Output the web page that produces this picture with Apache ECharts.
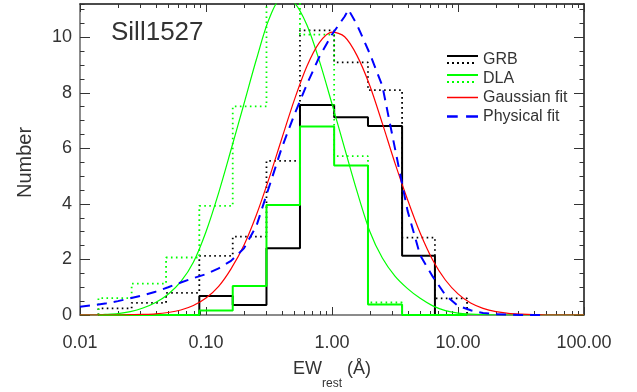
<!DOCTYPE html>
<html>
<head>
<meta charset="utf-8">
<script src="https://cdn.jsdelivr.net/npm/echarts@6/dist/echarts.min.js"></script>
<style>
  html, body { margin: 0; padding: 0; background: #fff; }
  #chart { width: 637px; height: 392px; }
</style>
</head>
<body>
<div id="chart"></div>
<script>
// ---- data ----
// histogram bin edges (EW_rest, Angstrom)
const binEdges = [0.0140, 0.0257, 0.0482, 0.0885, 0.163, 0.302, 0.557, 1.04, 1.93, 3.60, 6.56, 11.8];
// GRB histograms (solid and dotted)
const grbSolid = [0, 0, 0, 0.68, 0.36, 2.40, 7.56, 7.12, 6.81, 2.13, 0];
const grbDotted = [0.24, 0.44, 0.80, 2.13, 2.82, 5.55, 10.25, 9.10, 8.10, 2.79, 0.60];
// DLA histograms (solid and dotted)
const dlaSolid = [0, 0, 0, 0.16, 1.04, 3.96, 6.79, 5.38, 0.38, 0, 0];
const dlaDotted = [0.61, 1.13, 2.07, 3.93, 7.51, 11.8, 10.1, 5.72, 0.45, 0, 0];

// sampled positions for the fitted curves
const fitEW = [0.01, 0.0126, 0.0158, 0.02, 0.0251, 0.0316, 0.0398, 0.0501, 0.0631, 0.0794,
               0.1, 0.126, 0.158, 0.2, 0.251, 0.316, 0.398, 0.501, 0.631, 0.794,
               1, 1.26, 1.58, 2, 2.51, 3.16, 3.98, 5.01, 6.31, 7.94,
               10, 12.6, 15.8, 20, 25.1, 31.6, 39.8, 50.1, 63.1, 79.4, 100];
// Gaussian fit (red)
const gaussFit = [0, 0, 0, 0, 0.01, 0.02, 0.04, 0.09, 0.18, 0.34,
                  0.61, 1.03, 1.66, 2.51, 3.60, 4.91, 6.33, 7.73, 8.95, 9.81,
                  10.19, 10.02, 9.34, 8.25, 6.90, 5.47, 4.15, 2.95, 1.97, 1.26,
                  0.76, 0.43, 0.24, 0.12, 0.06, 0.03, 0.01, 0, 0, 0, 0];
// DLA fit (thin green curve)
const dlaFit = [0, 0, 0.02, 0.05, 0.12, 0.25, 0.45, 0.75, 1.20, 1.90,
                3.00, 4.40, 5.95, 7.60, 9.20, 10.65, 11.40, 11.25, 10.45, 9.15,
                7.60, 6.00, 4.45, 3.00, 2.05, 1.40, 0.95, 0.60, 0.33, 0.16,
                0.07, 0.03, 0.01, 0, 0, 0, 0, 0, 0, 0, 0];
// Physical fit (blue dashed)
const physEW = [0.01, 0.0126, 0.0158, 0.02, 0.0251, 0.0316, 0.0398, 0.0501, 0.0631, 0.0794,
                0.1, 0.126, 0.158, 0.2, 0.251, 0.316, 0.398, 0.501, 0.631, 0.794,
                1, 1.26, 1.35, 1.58, 2, 2.51, 3.16, 3.98, 5.01, 6.31, 7.94,
                10, 12.6, 15.8, 20, 25.1, 31.6, 39.8, 50.1];
const physFit = [0.30, 0.35, 0.41, 0.50, 0.60, 0.71, 0.84, 1.00, 1.17, 1.33,
                 1.47, 1.68, 1.95, 2.40, 3.20, 4.60, 6.00, 7.20, 8.30, 9.30,
                 10.10, 10.75, 11.00, 10.45, 9.40, 8.25, 6.00, 3.75, 2.15, 1.38, 0.72,
                 0.33, 0.17, 0.07, 0.03, 0.01, 0, 0, 0];

// axis ticks
const xMajorTicks = [0.01, 0.1, 1, 10, 100];
const xMinorTicks = [0.02, 0.03, 0.04, 0.05, 0.06, 0.07, 0.08, 0.09,
                     0.2, 0.3, 0.4, 0.5, 0.6, 0.7, 0.8, 0.9,
                     2, 3, 4, 5, 6, 7, 8, 9,
                     20, 30, 40, 50, 60, 70, 80, 90];
const yMin = 0, yMax = 11.2, yMajor = 2, yMinor = 0.5;

// ---- helpers ----
function stepPoints(edges, vals) {
  const pts = [[edges[0], 0]];
  for (let i = 0; i < vals.length; i++) {
    pts.push([edges[i], vals[i]], [edges[i + 1], vals[i]]);
  }
  pts.push([edges[edges.length - 1], 0]);
  return pts;
}
function pairs(xs, ys) { return xs.map((x, i) => [x, ys[i]]); }

const FONT = 'Liberation Sans, Arial, Helvetica, sans-serif';
const TXT = '#333';

function xAxisDef(pos, minor) {
  return {
    type: 'log', logBase: 10, min: 0.01, max: 100, position: pos,
    axisLine: { show: !minor, onZero: false, lineStyle: { color: pos === 'bottom' ? '#666' : '#111', width: 1.5 } },
    axisTick: minor
      ? { show: true, inside: true, length: 4, customValues: xMinorTicks, lineStyle: { color: '#333', width: 1 } }
      : { show: true, inside: true, length: 8, customValues: xMajorTicks, lineStyle: { color: '#333', width: 1 } },
    axisLabel: (pos === 'bottom' && !minor)
      ? { show: true, customValues: xMajorTicks, formatter: v => Number(v).toFixed(2), margin: 19, fontSize: 18, color: TXT, fontFamily: FONT }
      : { show: false },
    splitLine: { show: false },
    minorTick: { show: false }
  };
}
function yAxisDef(pos, minor) {
  return {
    type: 'value', min: yMin, max: yMax, interval: minor ? yMinor : yMajor, position: pos,
    axisLine: { show: !minor, onZero: false, lineStyle: { color: pos === 'left' ? '#666' : '#111', width: 1.5 } },
    axisTick: { show: true, inside: true, length: minor ? 4.5 : 10, lineStyle: { color: '#333', width: 1 } },
    axisLabel: (pos === 'left' && !minor)
      ? { show: true, margin: 8, fontSize: 18, color: TXT, fontFamily: FONT, showMaxLabel: false, padding: [3, 0, 0, 0] }
      : { show: false },
    splitLine: { show: false }
  };
}

const xMain = xAxisDef('bottom', false);
xMain.name = '{a|EW}{s|rest}{a| (Å)}';
xMain.nameLocation = 'middle';
xMain.nameGap = 45;
xMain.nameTextStyle = {
  rich: {
    a: { fontSize: 18, fontFamily: FONT, color: TXT, lineHeight: 30, verticalAlign: 'top' },
    s: { fontSize: 12, fontFamily: FONT, color: TXT, lineHeight: 12, verticalAlign: 'bottom' }
  }
};
const yMain = yAxisDef('left', false);
yMain.name = 'Number';
yMain.nameLocation = 'middle';
yMain.nameGap = 45;
yMain.nameTextStyle = { fontSize: 20, fontFamily: FONT, color: TXT, padding: [0, 6, 0, 0] };

const option = {
  animation: false,
  backgroundColor: '#fff',
  grid: { left: 80, right: 53, top: 4, bottom: 77, containLabel: false, outerBoundsMode: 'none' },
  title: {
    text: 'Sill1527', left: 111, top: 20, padding: 0,
    textStyle: { fontFamily: FONT, fontSize: 26, fontWeight: 'normal', color: TXT }
  },
  legend: {
    orient: 'vertical', left: 447, top: 50, padding: 0, itemGap: 0,
    itemWidth: 31, itemHeight: 9, symbolKeepAspect: true, selectedMode: false,
    itemStyle: { borderWidth: 0 },
    textStyle: { fontFamily: FONT, fontSize: 16, color: TXT, lineHeight: 19 },
    data: [
      { name: 'GRB', icon: 'path://M0,0H31V2H0Z M0,7H2V9H0Z M5,7H7V9H5Z M10,7H12V9H10Z M15,7H17V9H15Z M20,7H22V9H20Z M25,7H27V9H25Z' },
      { name: 'DLA', icon: 'path://M0,0H31V2H0Z M0,7H2V9H0Z M5,7H7V9H5Z M10,7H12V9H10Z M15,7H17V9H15Z M20,7H22V9H20Z M25,7H27V9H25Z' },
      { name: 'Gaussian fit', icon: 'path://M0,0H31V1.5H0Z' },
      { name: 'Physical fit', icon: 'path://M0,0H9V2H0Z M16,0H26V2H16Z' }
    ]
  },
  xAxis: [xMain, xAxisDef('bottom', true), xAxisDef('top', false), xAxisDef('top', true)],
  yAxis: [yMain, yAxisDef('left', true), yAxisDef('right', false), yAxisDef('right', true)],
  series: [
    { name: 'GRB', type: 'line', data: stepPoints(binEdges, grbSolid), symbol: 'none',
      itemStyle: { color: '#000' }, lineStyle: { color: '#000', width: 2 }, z: 3 },
    { name: 'GRB all', type: 'line', data: stepPoints(binEdges, grbDotted), symbol: 'none',
      itemStyle: { color: '#000' }, lineStyle: { color: '#000', width: 1.8, type: [1.6, 3.4] }, z: 3 },
    { name: 'DLA', type: 'line', data: stepPoints(binEdges, dlaSolid), symbol: 'none',
      itemStyle: { color: '#00ff00' }, lineStyle: { color: '#00ff00', width: 2 }, z: 3 },
    { name: 'DLA all', type: 'line', data: stepPoints(binEdges, dlaDotted), symbol: 'none',
      itemStyle: { color: '#00ff00' }, lineStyle: { color: '#00ff00', width: 1.8, type: [1.6, 3.4] }, z: 3 },
    { name: 'DLA fit', type: 'line', data: pairs(fitEW, dlaFit), symbol: 'none', smooth: 0.3,
      itemStyle: { color: '#00ff00' }, lineStyle: { color: '#00ff00', width: 1.2 }, z: 4 },
    { name: 'Gaussian fit', type: 'line', data: pairs(fitEW, gaussFit), symbol: 'none', smooth: 0.3,
      itemStyle: { color: '#ff0000' }, lineStyle: { color: '#ff0000', width: 1.2 }, z: 4 },
    { name: 'Physical fit', type: 'line', data: pairs(physEW, physFit), symbol: 'none',
      itemStyle: { color: '#0000ff' }, lineStyle: { color: '#0000ff', width: 2, type: [10, 7] }, z: 5 }
  ]
};

const chart = echarts.init(document.getElementById('chart'), null, { renderer: 'canvas' });
chart.setOption(option);
</script>
</body>
</html>
